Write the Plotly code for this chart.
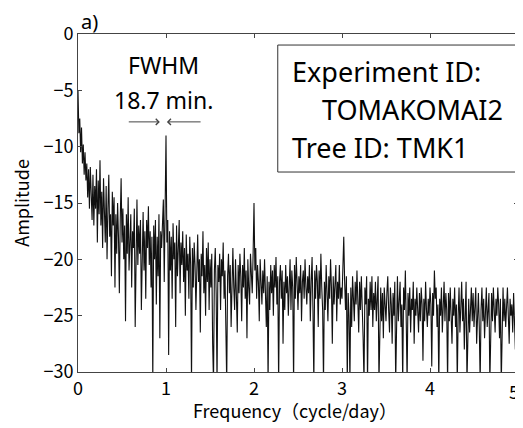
import plotly.graph_objects as go

# frequency grid (cycle/day), one value every 0.01
freq = [round(i * 0.01, 2) for i in range(501)]

# amplitude, rows of 10 values (0.1 cycle/day each)
amp = [
    -5.0, -8.8, -7.5, -10.5, -8.3, -11.5, -9.8, -12.5, -10.5, -13.0,
    -11.5, -14.5, -12.0, -15.5, -11.8, -13.5, -16.5, -12.5, -17.0, -13.5,
    -15.5, -12.0, -18.5, -13.0, -16.0, -11.2, -17.0, -14.0, -19.0, -12.8,
    -15.0, -18.5, -13.5, -20.0, -15.5, -12.5, -18.0, -16.0, -21.5, -14.0,
    -17.0, -14.5, -22.5, -16.0, -19.5, -15.0, -18.0, -23.0, -16.5, -12.8,
    -18.5, -15.5, -20.0, -17.0, -25.5, -16.0, -19.5, -14.5, -21.0, -17.5,
    -16.0, -22.5, -17.5, -19.0, -15.5, -26.0, -18.0, -14.7, -20.5, -17.0,
    -19.5, -16.5, -24.5, -18.0, -15.8, -21.0, -17.5, -23.5, -16.5, -19.0,
    -15.3, -20.5, -17.5, -22.5, -18.0, -31.0, -17.0, -20.0, -16.5, -24.0,
    -18.0, -21.5, -16.0, -27.0, -17.5, -19.0, -15.5, -14.7, -22.0, -11.2,
    -9.0, -18.5, -16.5, -28.5, -17.5, -21.0, -18.0, -23.5, -16.8, -20.0,
    -18.5, -26.0, -17.0, -21.5, -19.5, -16.5, -23.0, -18.5, -20.5, -17.5,
    -22.0, -19.0, -25.0, -17.8, -21.0, -19.5, -23.5, -18.0, -20.5, -31.0,
    -19.0, -22.5, -18.5, -20.5, -24.5, -19.5, -17.8, -22.0, -20.0, -26.5,
    -19.5, -21.5, -17.5, -23.0, -20.5, -25.0, -19.0, -22.0, -18.5, -24.5,
    -20.0, -22.5, -19.5, -27.5, -31.0, -21.0, -19.0, -23.0, -31.0, -20.5,
    -22.0, -19.5, -24.5, -20.0, -21.5, -18.5, -23.5, -21.0, -25.5, -31.0,
    -21.5, -19.5, -23.0, -20.5, -26.0, -21.0, -19.0, -22.5, -24.5, -20.0,
    -22.5, -26.5, -20.5, -23.0, -19.5, -21.5, -25.5, -20.5, -22.5, -19.0,
    -23.5, -21.0, -27.0, -20.0, -22.5, -24.0, -19.5, -21.5, -23.0, -19.5,
    -15.0, -21.0, -19.0, -23.5, -20.5, -22.0, -25.5, -20.0, -21.5, -24.0,
    -21.0, -23.0, -20.0, -22.5, -26.0, -21.5, -31.0, -22.0, -24.5, -20.5,
    -23.0, -21.0, -25.0, -20.5, -22.5, -19.8, -24.0, -21.5, -31.0, -22.0,
    -20.5, -23.5, -21.0, -27.5, -22.0, -24.5, -20.5, -23.0, -21.5, -25.0,
    -22.0, -20.0, -24.5, -21.0, -22.5, -31.0, -20.5, -23.5, -19.8, -22.0,
    -24.5, -21.5, -23.0, -20.5, -25.5, -22.0, -21.0, -23.5, -20.0, -22.5,
    -24.0, -21.5, -23.0, -20.5, -25.5, -22.0, -19.8, -24.5, -31.0, -21.0,
    -23.5, -20.5, -22.0, -26.0, -21.0, -23.5, -19.5, -22.5, -24.5, -31.0,
    -22.0, -24.5, -20.5, -23.0, -25.5, -21.5, -23.5, -20.0, -22.5, -27.5,
    -21.5, -24.0, -22.0, -20.5, -25.5, -22.0, -23.5, -20.5, -24.0, -22.5,
    -23.5, -21.0, -18.0, -22.0, -24.5, -21.5, -31.0, -23.0, -25.0, -31.0,
    -22.5, -26.0, -21.5, -23.5, -25.5, -22.0, -24.0, -21.0, -23.0, -26.5,
    -22.0, -24.5, -21.5, -23.5, -27.0, -31.0, -22.5, -24.0, -21.5, -31.0,
    -23.5, -25.0, -22.0, -24.5, -21.5, -26.0, -23.0, -24.5, -22.0, -25.5,
    -23.0, -21.5, -31.0, -24.5, -22.5, -25.5, -23.0, -27.0, -22.5, -24.0,
    -25.5, -23.0, -21.5, -24.5, -26.5, -22.5, -24.0, -27.5, -23.0, -25.0,
    -22.0, -31.0, -24.0, -21.5, -25.5, -23.0, -22.0, -26.0, -24.0, -31.0,
    -22.5, -24.5, -21.0, -25.5, -31.0, -23.0, -25.0, -22.5, -26.5, -23.5,
    -24.5, -22.0, -27.5, -23.5, -25.0, -22.5, -24.0, -26.5, -23.0, -25.5,
    -22.5, -24.0, -29.0, -23.5, -25.5, -22.0, -24.5, -26.0, -23.5, -25.0,
    -22.5, -24.0, -29.5, -23.0, -25.0, -21.0, -23.5, -22.5, -26.0, -24.0,
    -31.0, -23.5, -25.0, -22.5, -26.5, -24.0, -22.0, -25.5, -23.0, -24.5,
    -31.0, -23.0, -25.5, -22.5, -24.5, -27.5, -23.5, -25.0, -22.5, -26.0,
    -24.0, -31.0, -25.0, -22.5, -26.5, -24.0, -22.0, -25.5, -23.5, -28.0,
    -24.5, -22.0, -31.0, -25.0, -23.5, -26.5, -24.0, -22.5, -25.5, -23.0,
    -26.0, -24.0, -22.5, -27.5, -24.5, -23.0, -26.0, -31.0, -24.5, -22.5,
    -25.5, -23.5, -27.0, -24.0, -22.5, -26.0, -24.5, -23.0, -31.0, -25.0,
    -23.0, -25.5, -22.5, -24.5, -26.5, -23.5, -25.0, -22.5, -24.0, -27.0,
    -23.5, -31.0, -24.0, -22.5, -25.5, -23.5, -26.0, -24.0, -22.5, -25.0,
    -27.5, -23.5, -25.0, -24.0, -26.5, -23.0, -25.5, -28.0, -24.0, -25.5,
    -24.5,
]

x_ticks = [0, 1, 2, 3, 4, 5]
y_ticks = [0, -5, -10, -15, -20, -25, -30]

info_lines = ["Experiment ID:", "TOMAKOMAI2", "Tree ID: TMK1"]

tick_font = dict(family="Noto Sans CJK JP", size=18, color="black")
text_font = dict(family="Noto Sans", size=27, color="black")
fwhm_font = dict(family="Noto Sans", size=23, color="black")

fig = go.Figure()
fig.add_trace(go.Scatter(x=freq, y=amp, mode="lines",
                         line=dict(color="#111", width=1.1),
                         showlegend=False))

# the page body adds an 8px offset, so the figure is drawn 8px smaller
fig.update_layout(
    width=515, height=420,
    margin=dict(l=70, r=5, t=26, b=56),
    paper_bgcolor="white", plot_bgcolor="white",
)
# last tick label sits at the right edge, so it is drawn as an annotation
fig.update_xaxes(range=[0, 5], tickvals=x_ticks,
                 ticktext=[str(t) for t in x_ticks[:-1]] + [""],
                 ticks="inside", ticklen=4,
                 showline=True, mirror="ticks", linecolor="#444", tickcolor="#444",
                 showgrid=False, zeroline=False, tickfont=tick_font,
                 automargin=False)
fig.update_yaxes(range=[-30, 0], tickvals=y_ticks, ticks="inside", ticklen=4,
                 showline=True, mirror="ticks", linecolor="#444", tickcolor="#444",
                 showgrid=False, zeroline=False, tickfont=tick_font,
                 automargin=False)
fig.add_annotation(xref="x", yref="paper", x=x_ticks[-1], y=0, yshift=-4,
                   text=str(x_ticks[-1]), showarrow=False, xanchor="right",
                   xshift=3, yanchor="top", font=tick_font)

# axis titles
fig.add_annotation(xref="paper", yref="paper", x=0.494, y=0, yshift=-38,
                   text="Frequency（cycle/day）", showarrow=False,
                   yanchor="middle", font=tick_font)
fig.add_annotation(xref="paper", yref="paper", x=-0.13, y=0.5,
                   text="Amplitude", textangle=-90, showarrow=False,
                   xanchor="center", yanchor="middle", font=tick_font)

# info box
fig.add_shape(type="rect", xref="x", yref="y", x0=2.27, x1=5.0, y0=-12.25, y1=-0.98,
              line=dict(color="#333", width=1), fillcolor="white", layer="above")
fig.add_annotation(xref="x", yref="y", x=2.41, y=-3.37, text=info_lines[0],
                   showarrow=False, xanchor="left", font=text_font)
fig.add_annotation(xref="x", yref="y", x=2.75, y=-6.74, text=info_lines[1],
                   showarrow=False, xanchor="left", font=text_font)
fig.add_annotation(xref="x", yref="y", x=2.41, y=-10.1, text=info_lines[2],
                   showarrow=False, xanchor="left", font=text_font)

# FWHM label and arrows
fig.add_annotation(xref="x", yref="y", x=0.966, y=-2.75, text="FWHM",
                   showarrow=False, font=fwhm_font)
fig.add_annotation(xref="x", yref="y", x=0.966, y=-5.86, text="18.7 min.",
                   showarrow=False, font=fwhm_font)
fig.add_annotation(xref="x", yref="y", x=0.93, y=-7.8, ax=0.56, ay=-7.8,
                   axref="x", ayref="y", text="", showarrow=True,
                   arrowhead=4, arrowsize=1.2, arrowwidth=1, arrowcolor="#444")
fig.add_annotation(xref="x", yref="y", x=1.01, y=-7.8, ax=1.41, ay=-7.8,
                   axref="x", ayref="y", text="", showarrow=True,
                   arrowhead=4, arrowsize=1.2, arrowwidth=1, arrowcolor="#444")

# panel label
fig.add_annotation(xref="paper", yref="paper", x=0, xshift=1, y=1.0, yshift=13,
                   text="a)", showarrow=False, xanchor="left", yanchor="middle",
                   font=dict(family="Noto Sans", size=20, color="black"))

fig.write_html("out.html")
